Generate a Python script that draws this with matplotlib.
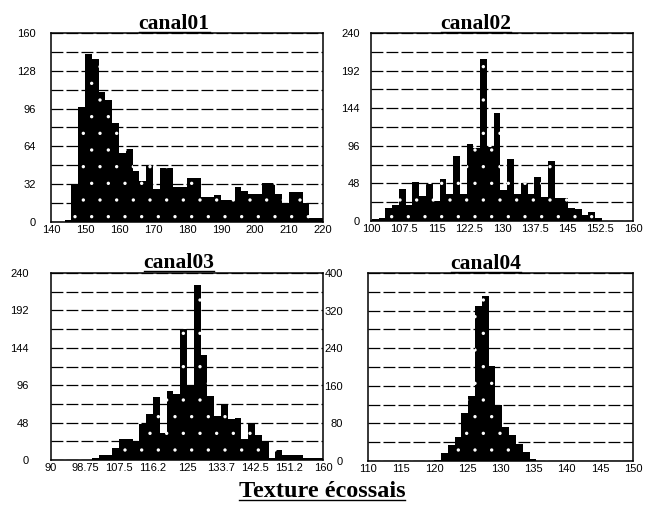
import numpy as np
import matplotlib
matplotlib.use('Agg')
import matplotlib.pyplot as plt
from matplotlib.lines import Line2D

plt.rcParams['hatch.linewidth'] = 0.0
plt.rcParams['font.family'] = 'Liberation Sans'

# histogram counts (bin start, bin width, counts)
c1_start, c1_width = 144, 2
c1_counts = [2, 31, 97, 142, 138, 110, 103, 84, 58, 62, 43, 35, 48, 28, 46, 46,
             30, 30, 37, 37, 21, 21, 23, 19, 19, 30, 26, 24, 24, 33, 33, 24,
             16, 25, 25, 16, 3, 3]

c2_start, c2_width = 100.2, 1.55
c2_counts = [3, 4, 17, 20, 41, 20, 50, 32, 47, 26, 54, 34, 83, 35, 98, 93,
             207, 95, 138, 39, 79, 35, 48, 35, 56, 31, 76, 29, 29, 16, 15, 8,
             12, 4]

c3_start, c3_width = 90, 1.75
c3_counts = [0, 0, 0, 0, 0, 0, 3, 6, 6, 16, 27, 27, 24, 46, 59, 81,
             35, 89, 85, 168, 95, 224, 135, 82, 56, 70, 53, 54, 27, 46, 32, 24,
             2, 13, 6, 6, 6, 2, 2, 2]

c4_start, c4_width = 118.94, 1.03
c4_counts = [1, 2, 17, 33, 51, 103, 139, 329, 352, 202, 120, 72, 55, 37, 20, 5]

c1_xticks = [140, 150, 160, 170, 180, 190, 200, 210, 220]
c1_xlabels = ['140', '150', '160', '170', '180', '190', '200', '210', '220']
c2_xticks = [100, 107.5, 115, 122.5, 130, 137.5, 145, 152.5, 160]
c2_xlabels = ['100', '107.5', '115', '122.5', '130', '137.5', '145', '152.5', '160']
c3_xticks = [90, 98.75, 107.5, 116.25, 125, 133.75, 142.5, 151.25, 160]
c3_xlabels = ['90', '98.75', '107.5', '116.2', '125', '133.7', '142.5', '151.2', '160']
c4_xticks = [110, 115, 120, 125, 130, 135, 140, 145, 150]
c4_xlabels = ['110', '115', '120', '125', '130', '135', '140', '145', '150']

W, H = 648, 505
fig = plt.figure(figsize=(W / 100, H / 100), dpi=100)


def px_axes(left, top, right, bottom):
    return fig.add_axes([left / W, 1 - bottom / H, (right - left) / W, (bottom - top) / H])


def draw_panel(ax, start, width, counts, xticks, xlabels, ymax, ystep, ypad):
    edges = start + width * np.arange(len(counts) + 1)
    ax.stairs(counts, edges, fill=True, facecolor='black', edgecolor='white',
              linewidth=0, hatch='.', zorder=2)
    ax.set_xlim(xticks[0], xticks[-1])
    ax.set_ylim(0, ymax)
    ax.set_xticks(xticks, xlabels)
    ax.set_yticks(np.arange(0, ymax + 1, ystep))
    ax.set_yticks(np.arange(ystep / 2, ymax, ystep), minor=True)
    ax.set_axisbelow(True)
    ax.grid(which='both', axis='y', color='black', linewidth=0.9,
            linestyle=(0, (9.5, 2.5)))
    ax.tick_params(which='both', length=0, labelsize=8)
    ax.tick_params(axis='x', pad=2)
    ax.tick_params(axis='y', pad=ypad)
    for s in ax.spines.values():
        s.set_linewidth(1.1)
        s.set_zorder(3)


ax1 = px_axes(51, 33, 323, 222)
draw_panel(ax1, c1_start, c1_width, c1_counts, c1_xticks, c1_xlabels, 160, 32, 11)
ax2 = px_axes(371, 33, 633, 221)
draw_panel(ax2, c2_start, c2_width, c2_counts, c2_xticks, c2_xlabels, 240, 48, 8)
ax3 = px_axes(51, 273, 323, 460)
draw_panel(ax3, c3_start, c3_width, c3_counts, c3_xticks, c3_xlabels, 240, 48, 16)
ax4 = px_axes(368, 273, 633, 461)
draw_panel(ax4, c4_start, c4_width, c4_counts, c4_xticks, c4_xlabels, 400, 80, 18)


def underlined(x, y, s, size):
    t = fig.text(x / W, 1 - y / H, s, ha='center', va='baseline', fontsize=size,
                 fontweight='bold', family='Liberation Serif')
    fig.canvas.draw()
    bb = t.get_window_extent()
    uy = (H - y - 2.5) / H
    fig.add_artist(Line2D([bb.x0 / W, bb.x1 / W], [uy, uy], color='black', linewidth=1.0))


underlined(174, 29, 'canal01', 15.5)
underlined(476, 29, 'canal02', 15.5)
underlined(179, 268, 'canal03', 15.5)
underlined(486, 269, 'canal04', 15.5)
underlined(322, 497, 'Texture écossais', 17.5)

fig.savefig('out.png', dpi=100)
